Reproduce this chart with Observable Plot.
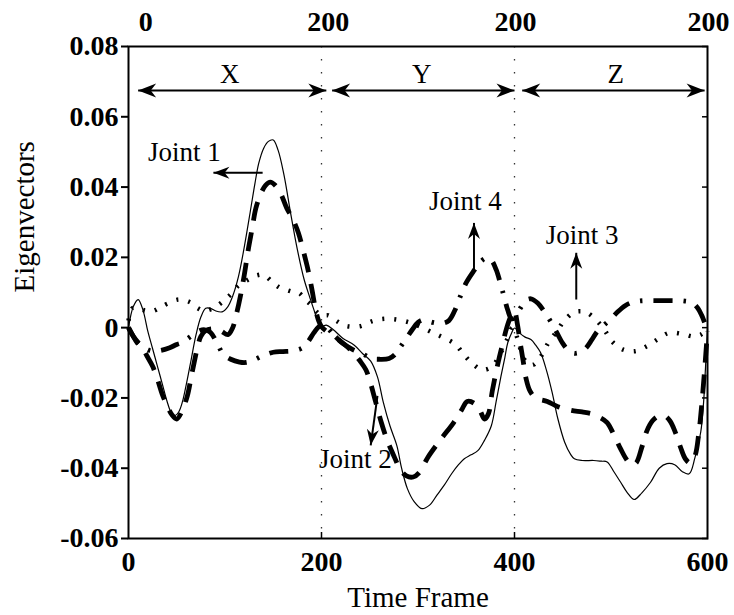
<!DOCTYPE html>
<html>
<head>
<meta charset="utf-8">
<script src="https://cdn.jsdelivr.net/npm/d3@7"></script>
<script src="https://cdn.jsdelivr.net/npm/@observablehq/plot@0.6"></script>
<style>
  body { margin: 0; background: #fff; }
</style>
</head>
<body>
<div id="chart"></div>
<script>
// Axis ticks and labels
const yTicks = [-0.06, -0.04, -0.02, 0, 0.02, 0.04, 0.06, 0.08];
const xTicks = [0, 200, 400, 600];
const topTickPos = [18, 207, 401, 601];
const topTickLabels = ["0", "200", "200", "200"];
const sectionBreaks = [200, 400];

// X / Y / Z channel spans (double-headed arrows)
const spanNames = ["X", "Y", "Z"];
const spanStart = [10, 211, 408];
const spanEnd = [205, 400, 597];
const spanLabelX = [105, 304, 505];
const spanArrowY = 0.0675;
const spanLabelY = 0.0722;

// Joint call-outs
const jointNames = ["Joint 1", "Joint 2", "Joint 3", "Joint 4"];
const jointLabelX = [58, 235, 470, 349];
const jointLabelY = [0.0498, -0.0376, 0.0262, 0.0358];
const jointArrowX1 = [139, 258, 464, 358];
const jointArrowY1 = [0.0441, -0.0194, 0.008, 0.0157];
const jointArrowX2 = [88, 251, 464, 358];
const jointArrowY2 = [0.0441, -0.0335, 0.0213, 0.0298];

// Joint 1 eigenvector (thin solid)
const joint1X = [0, 5, 10, 15, 20, 25, 30, 35, 40, 44, 48, 52, 56, 60, 65, 70, 75, 80, 85, 90, 97, 103, 108, 114, 120, 126, 131, 135, 140, 145, 150, 155, 161, 168, 175, 182, 188, 192, 196, 200, 205, 212, 222, 234, 243, 251, 258, 264, 271, 278, 283, 289, 296, 304, 312, 320, 327, 335, 342, 348, 355, 362, 369, 376, 381, 386, 390, 393, 397, 400, 405, 411, 417, 422, 427, 433, 439, 445, 452, 458, 462, 470, 482, 490, 496, 503, 510, 517, 524, 532, 541, 550, 558, 566, 574, 581, 587, 593, 596, 598, 600];
const joint1Y = [0.0, 0.006, 0.008, 0.005, -0.001, -0.006, -0.011, -0.016, -0.021, -0.024, -0.025, -0.024, -0.021, -0.016, -0.009, -0.002, 0.003, 0.0055, 0.0055, 0.0048, 0.0045, 0.006, 0.009, 0.0146, 0.023, 0.0327, 0.041, 0.0468, 0.051, 0.053, 0.0534, 0.0505, 0.0436, 0.0326, 0.0222, 0.0137, 0.0085, 0.0052, 0.002, 0.0004, 0.0007, -0.0005, -0.003, -0.005, -0.0075, -0.0095, -0.014, -0.0212, -0.028, -0.0335, -0.04, -0.0458, -0.0495, -0.0515, -0.0505, -0.0475, -0.0449, -0.0415, -0.039, -0.0373, -0.0362, -0.035, -0.032, -0.0279, -0.021, -0.0138, -0.0085, -0.0043, -0.0015, -0.0001, -0.0015, -0.0027, -0.0034, -0.005, -0.0071, -0.012, -0.0184, -0.026, -0.0326, -0.036, -0.0373, -0.0378, -0.0378, -0.038, -0.0382, -0.041, -0.044, -0.047, -0.0489, -0.047, -0.044, -0.040, -0.0387, -0.039, -0.041, -0.0416, -0.037, -0.0297, -0.021, -0.011, -0.0005];

// Joint 2 eigenvector (thick dashed)
const joint2X = [0, 4, 9, 15, 19, 25, 30, 35, 40, 45, 50, 55, 61, 65, 68, 72, 75, 80, 88, 96, 103, 108, 112, 116, 120, 124, 128, 132, 137, 142, 147, 152, 158, 164, 170, 176, 181, 186, 190, 194, 197, 200, 205, 212, 218, 227, 234, 240, 246, 251, 256, 262, 268, 275, 282, 288, 295, 302, 310, 323, 337, 345, 351, 358, 364, 369, 373, 377, 383, 388, 392, 396, 400, 403, 406, 409, 412, 416, 422, 434, 445, 458, 470, 480, 488, 496, 503, 510, 516, 521, 526, 532, 537, 543, 549, 555, 561, 567, 572, 577, 582, 587, 591, 594, 597, 600];
const joint2Y = [0.0, -0.002, -0.0043, -0.006, -0.008, -0.011, -0.0147, -0.019, -0.0222, -0.0248, -0.026, -0.024, -0.0194, -0.014, -0.01, -0.005, -0.0025, -0.0008, -0.0003, -0.001, -0.002, 0.0, 0.004, 0.009, 0.015, 0.022, 0.028, 0.034, 0.038, 0.0405, 0.0414, 0.0405, 0.038, 0.034, 0.031, 0.027, 0.022, 0.0165, 0.011, 0.005, 0.002, 0.0003, -0.001, -0.002, -0.0035, -0.0055, -0.0075, -0.0095, -0.012, -0.016, -0.021, -0.027, -0.032, -0.0365, -0.0405, -0.0422, -0.0425, -0.041, -0.037, -0.032, -0.027, -0.0235, -0.021, -0.0215, -0.0235, -0.026, -0.0245, -0.018, -0.010, -0.0043, 0.0, 0.003, 0.0045, 0.001, -0.0045, -0.0095, -0.0145, -0.018, -0.020, -0.021, -0.0225, -0.0235, -0.024, -0.0245, -0.0255, -0.027, -0.0305, -0.0345, -0.0375, -0.039, -0.0385, -0.034, -0.0295, -0.0265, -0.0252, -0.025, -0.0265, -0.030, -0.034, -0.0373, -0.0385, -0.0365, -0.030, -0.022, -0.012, -0.001];

// Joint 3 eigenvector (dotted)
const joint3X = [0, 4, 10, 18, 26, 33, 40, 52, 64, 72, 78, 85, 92, 100, 106, 114, 123, 132, 140, 149, 156, 163, 170, 177, 183, 189, 195, 200, 207, 215, 225, 240, 252, 265, 278, 292, 303, 315, 326, 339, 347, 357, 367, 377, 386, 393, 398, 403, 409, 415, 420, 425, 429, 435, 444, 451, 461, 468, 475, 486, 494, 501, 512, 525, 537, 548, 560, 574, 585, 593, 600];
const joint3Y = [0.002, 0.0055, 0.0055, 0.0048, 0.0048, 0.0058, 0.0068, 0.008, 0.0072, 0.0055, 0.0048, 0.0052, 0.0062, 0.008, 0.0095, 0.012, 0.0135, 0.0148, 0.015, 0.013, 0.0115, 0.0108, 0.0102, 0.0098, 0.008, 0.0065, 0.0045, 0.0035, 0.0035, 0.002, 0.0005, 0.0004, 0.0018, 0.0025, 0.0023, 0.0014, 0.0002, -0.0014, -0.0028, -0.0048, -0.0075, -0.0104, -0.012, -0.011, -0.007, -0.003, 0.0, -0.003, -0.0085, -0.0105, -0.0105, -0.009, -0.0075, -0.0043, -0.001, 0.0018, 0.0043, 0.0047, 0.0043, 0.0018, -0.001, -0.0039, -0.0062, -0.0067, -0.0053, -0.0034, -0.0015, -0.0018, -0.0025, -0.002, -0.0005];

// Joint 4 eigenvector (thick dash-dot)
const joint4X = [0, 5, 10, 18, 25, 33, 42, 50, 56, 62, 68, 74, 79, 85, 92, 98, 106, 115, 122, 130, 140, 150, 160, 170, 180, 186, 192, 197, 202, 207, 214, 222, 232, 243, 252, 260, 270, 276, 282, 288, 294, 300, 306, 315, 325, 332, 338, 344, 350, 358, 365, 371, 376, 381, 385, 389, 393, 397, 401, 406, 412, 417, 424, 431, 438, 444, 450, 456, 462, 468, 474, 480, 486, 493, 500, 507, 515, 522, 530, 540, 552, 565, 575, 584, 590, 594, 597, 600];
const joint4Y = [0.0, -0.0025, -0.0042, -0.006, -0.0067, -0.0065, -0.0058, -0.0048, -0.0042, -0.003, -0.0018, -0.0008, -0.0006, -0.0014, -0.0045, -0.0075, -0.009, -0.0098, -0.0099, -0.0092, -0.0079, -0.007, -0.0068, -0.0066, -0.0058, -0.004, -0.0015, 0.0002, 0.0008, -0.0003, -0.0025, -0.0045, -0.0062, -0.0075, -0.0088, -0.009, -0.0088, -0.0077, -0.0054, -0.003, -0.0006, 0.0015, 0.0022, 0.0015, 0.0012, 0.002, 0.0048, 0.009, 0.0128, 0.0162, 0.0188, 0.0198, 0.0192, 0.0165, 0.013, 0.009, 0.005, 0.0025, 0.003, 0.0055, 0.0078, 0.0082, 0.007, 0.0045, 0.0015, -0.0015, -0.0045, -0.0065, -0.0073, -0.007, -0.0058, -0.0035, -0.001, 0.0008, 0.0025, 0.0045, 0.0063, 0.0072, 0.0076, 0.0077, 0.0077, 0.0077, 0.0076, 0.0071, 0.0055, 0.0035, 0.0015, -0.0005];

// Layout
const W = 734, H = 615;
const mL = 128, mR = 27, mT = 46, mB = 77;
const xDomain = [0, 600], yDomain = [-0.06, 0.08];
const serif = "'Liberation Serif', 'Times New Roman', serif";

const pts = (xs, ys) => xs.map((x, i) => ({x, y: ys[i]}));

// Filled barbed arrow head, tip at the origin, pointing along angle (deg, SVG coords)
function head(angleDeg, len, half) {
  const a = angleDeg * Math.PI / 180, c = Math.cos(a), s = Math.sin(a);
  const pt = (u, v) => [u * c - v * s, u * s + v * c];
  return {
    draw(ctx) {
      const P = [pt(0, 0), pt(-len, -half), pt(-len * 0.7, 0), pt(-len, half)];
      ctx.moveTo(P[0][0], P[0][1]);
      for (let i = 1; i < P.length; i++) ctx.lineTo(P[i][0], P[i][1]);
      ctx.closePath();
    }
  };
}

// pixel-per-unit factors, used only to orient the heads
const kx = (W - mL - mR) / (xDomain[1] - xDomain[0]);
const ky = (H - mT - mB) / (yDomain[1] - yDomain[0]);

const spans = spanNames.map((n, i) => ({n, s: spanStart[i], e: spanEnd[i], lx: spanLabelX[i]}));
const joints = jointNames.map((n, i) => ({
  n, lx: jointLabelX[i], ly: jointLabelY[i],
  x1: jointArrowX1[i], y1: jointArrowY1[i], x2: jointArrowX2[i], y2: jointArrowY2[i],
  ang: Math.atan2(-(jointArrowY2[i] - jointArrowY1[i]) * ky, (jointArrowX2[i] - jointArrowX1[i]) * kx) * 180 / Math.PI
}));

const headMarks = [];
spans.forEach(d => {
  headMarks.push(Plot.dot([d], {x: "s", y: () => spanArrowY, symbol: head(180, 18, 7), r: 8, fill: "black", stroke: "none"}));
  headMarks.push(Plot.dot([d], {x: "e", y: () => spanArrowY, symbol: head(0, 18, 7), r: 8, fill: "black", stroke: "none"}));
});
joints.forEach(d => {
  headMarks.push(Plot.dot([d], {x: "x2", y: "y2", symbol: head(d.ang, 16, 6), r: 8, fill: "black", stroke: "none"}));
});

const fmtY = d => d === 0 ? "0" : d.toFixed(2);
const tickFont = {fontFamily: serif, fontSize: 28, fontWeight: "bold"};

const chart = Plot.plot({
  width: W,
  height: H,
  marginLeft: mL,
  marginRight: mR,
  marginTop: mT,
  marginBottom: mB,
  x: {domain: xDomain},
  y: {domain: yDomain},
  style: {fontFamily: serif, color: "black", background: "white"},
  marks: [
    // channel boundaries
    Plot.ruleX(sectionBreaks, {stroke: "#333", strokeWidth: 1.3, strokeDasharray: "1.5,11.5"}),

    // eigenvector curves
    Plot.line(pts(joint1X, joint1Y), {x: "x", y: "y", curve: "catmull-rom", stroke: "black", strokeWidth: 1.2}),
    Plot.line(pts(joint3X, joint3Y), {x: "x", y: "y", curve: "catmull-rom", stroke: "black", strokeWidth: 4.5, strokeDasharray: "2,10", strokeLinecap: "butt"}),
    Plot.line(pts(joint4X, joint4Y), {x: "x", y: "y", curve: "catmull-rom", stroke: "black", strokeWidth: 4.8, strokeDasharray: "19,11,2.5,11", strokeLinecap: "butt"}),
    Plot.line(pts(joint2X, joint2Y), {x: "x", y: "y", curve: "catmull-rom", stroke: "black", strokeWidth: 4.8, strokeDasharray: "19,12", strokeLinecap: "butt"}),

    // axes
    Plot.axisY(yTicks, {tickSize: 7, tickPadding: 3, tickFormat: fmtY, ...tickFont, label: null, strokeWidth: 2}),
    Plot.axisY(yTicks, {anchor: "right", tickSize: 6, dx: -6, tickFormat: () => "", label: null, strokeWidth: 1.5}),
    Plot.axisX(xTicks, {tickSize: 0, tickPadding: 13, ...tickFont, label: null}),
    Plot.axisX(sectionBreaks, {tickSize: 6, dy: -6, tickFormat: () => "", label: null, strokeWidth: 1.5}),
    Plot.text(topTickLabels, {x: (d, i) => topTickPos[i], frameAnchor: "top", dy: -24, ...tickFont, lineAnchor: "middle"}),
    Plot.frame({stroke: "black", strokeWidth: 2}),

    // axis titles
    Plot.text(["Eigenvectors"], {frameAnchor: "left", rotate: -90, dx: -104, fontFamily: serif, fontSize: 29, lineAnchor: "middle"}),
    Plot.text(["Time Frame"], {frameAnchor: "bottom", dy: 59, fontFamily: serif, fontSize: 29, lineAnchor: "middle"}),

    // channel span arrows
    Plot.link(spans, {x1: "s", x2: "e", y1: () => spanArrowY, y2: () => spanArrowY, stroke: "black", strokeWidth: 2}),
    Plot.text(spans, {x: "lx", y: () => spanLabelY, text: "n", fontFamily: serif, fontSize: 27, lineAnchor: "middle"}),

    // joint call-outs
    Plot.link(joints, {x1: "x1", y1: "y1", x2: "x2", y2: "y2", stroke: "black", strokeWidth: 2}),
    Plot.text(joints, {x: "lx", y: "ly", text: "n", fontFamily: serif, fontSize: 27, lineAnchor: "middle"}),
    ...headMarks
  ]
});

document.getElementById("chart").appendChild(chart);
</script>
</body>
</html>
